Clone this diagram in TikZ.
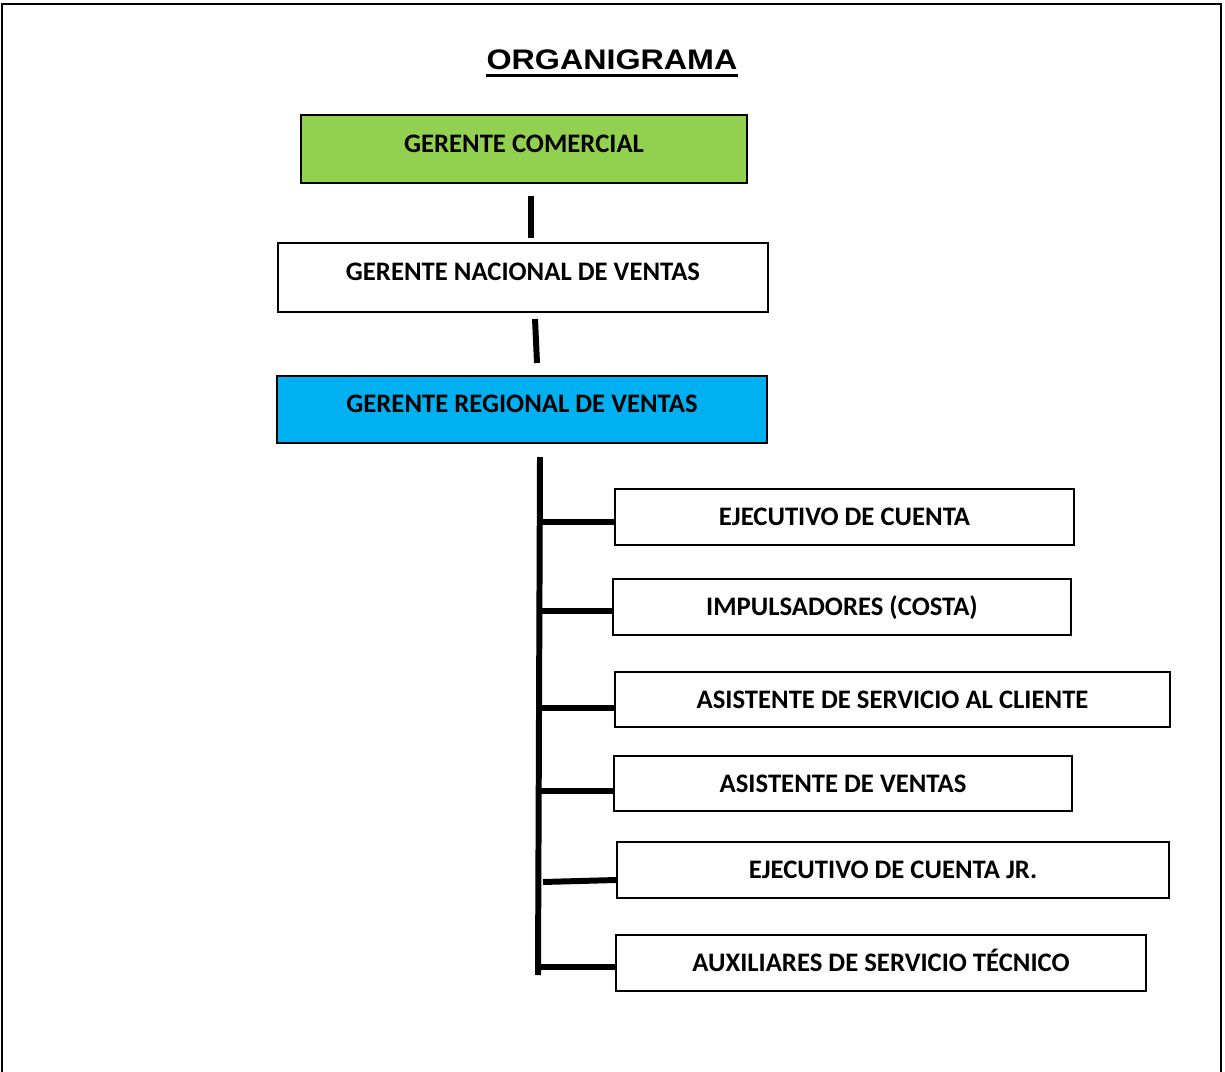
\documentclass[tikz,border=0pt]{standalone}
\usepackage{fontspec}
\setmainfont{Carlito}
\newfontfamily\titlefont{Liberation Sans}[FakeStretch=1.14]
\definecolor{boxgreen}{HTML}{92D050}
\definecolor{boxcyan}{HTML}{00B0F0}

\begin{document}
\begin{tikzpicture}[x=0.02cm, y=-0.02cm,
	box/.style={draw, line width=1.1pt, inner sep=0pt, text height=9.8pt, text depth=0pt,
		font=\fontsize{15.2pt}{17pt}\selectfont\bfseries},
	headbox/.style={box, text depth=5.9pt},
	link/.style={line width=3.4pt}]
	\def\u{0.02cm} % one pixel of the reference

\useasboundingbox (0,0) rectangle (1225,1072);
\draw[line width=1.4pt] (2,1072) -- (2,4) -- (1221,4) -- (1221,1072);

% title
\node[inner sep=0pt, font=\titlefont\fontsize{16.1pt}{18pt}\selectfont\bfseries] (titulo) at (612,59.5) {ORGANIGRAMA};
\draw[line width=1.7pt] ([yshift=-3.6pt]titulo.base west) -- ([yshift=-3.6pt]titulo.base east);

% heads
\node[headbox, fill=boxgreen, minimum width={446*\u}, minimum height={68*\u}] (gc) at (524,149) {GERENTE COMERCIAL};
\node[headbox, minimum width={490*\u}, minimum height={69*\u}] (gnv) at (523,277.5) {GERENTE NACIONAL DE VENTAS};
\node[headbox, fill=boxcyan, minimum width={490*\u}, minimum height={67*\u}] (grv) at (522,409.5) {GERENTE REGIONAL DE VENTAS};

% children
\node[box, minimum width={459*\u}, minimum height={56*\u}] (ec) at (844.5,517) {EJECUTIVO DE CUENTA};
\node[box, minimum width={458*\u}, minimum height={56*\u}] (ip) at (842,607) {IMPULSADORES (COSTA)};
\node[box, minimum width={555*\u}, minimum height={55*\u}] (asc) at (892.5,699.5) {ASISTENTE DE SERVICIO AL CLIENTE};
\node[box, minimum width={458*\u}, minimum height={55*\u}] (av) at (843,783.5) {ASISTENTE DE VENTAS};
\node[box, minimum width={552*\u}, minimum height={56*\u}] (ecj) at (893,870) {EJECUTIVO DE CUENTA JR.};
\node[box, minimum width={530*\u}, minimum height={56*\u}] (ast) at (881,963) {AUXILIARES DE SERVICIO T\'ECNICO};

% connectors
\coordinate (c1a) at (531,196);
\coordinate (c1b) at (531,238);
\coordinate (c2a) at (535,319);
\coordinate (c2b) at (537,363);
\coordinate (ta) at (540,457);
\coordinate (tb) at (538,975);
\draw[link] (c1a) -- (c1b);
\draw[link] (c2a) -- (c2b);
\draw[link] (ta) -- (tb);

\foreach \n/\xs/\ya/\yb in {ec/539/522/522, ip/537/611/611, asc/539/708/708, av/539/791/791, ecj/543/882/880, ast/538/967/967}
	\draw[link] (\xs,\ya) -- (\n.west |- 0,\yb);

\end{tikzpicture}
\end{document}
